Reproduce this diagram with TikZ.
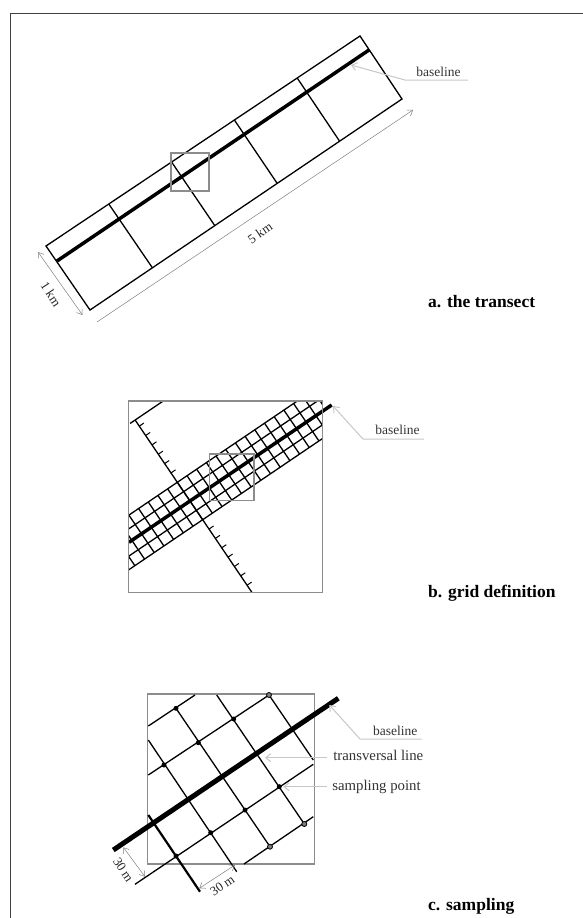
\documentclass[tikz,border=0pt]{standalone}
\usepackage{fontspec}
\setmainfont{Liberation Serif}
\usetikzlibrary{calc, positioning, arrows.meta}
\definecolor{framegray}{gray}{0.25}
\definecolor{boxgray}{gray}{0.55}
\definecolor{leadgray}{gray}{0.78}
\tikzset{
  mainline/.style={black, line width=1.3pt},
  baseline/.style={black, line width=3.5pt},
  graybox/.style={boxgray, line width=1.5pt},
  dimline/.style={gray, line width=0.5pt, {Straight Barb[length=5pt,width=7pt]}-{Straight Barb[length=5pt,width=7pt]}},
  leader/.style={leadgray, line width=1pt, -{Straight Barb[length=5pt,width=8pt]}},
  smalltext/.style={font=\fontsize{13.5}{15}\selectfont, inner sep=0pt, text=black!80},
  widetext/.style={font=\fontsize{14.8}{16}\selectfont, inner sep=0pt, text=black!80},
  dimtext/.style={font=\fontsize{13}{15}\selectfont, inner sep=0pt, text=black!85},
  paneltitle/.style={font=\fontsize{17.5}{19}\selectfont\bfseries, inner sep=0pt, anchor=base west},
  samplept/.style={circle, fill=black, inner sep=0pt, minimum size=5pt},
  openpt/.style={circle, draw=black, fill=gray, line width=0.8pt, inner sep=0pt, minimum size=5pt}
}
\begin{document}
\begin{tikzpicture}[x=1pt, y=-1pt]
  \useasboundingbox (0,0) rectangle (583,918);
  \draw[framegray, line width=0.8pt] (10,918) |- (583,13);

  % a. the transect
  \coordinate (atl) at (46,246);
  \coordinate (atr) at (360,36);
  \coordinate (abr) at (402,99);
  \coordinate (abl) at (90,310);
  \draw[mainline] (atl) -- (atr) -- (abr) -- (abl) -- cycle;
  \foreach \f in {0.2,0.4,0.6,0.8}
    \draw[mainline] ($(atl)!\f!(atr)$) -- ($(abl)!\f!(abr)$);
  \coordinate (abase1) at (57,261);
  \coordinate (abase2) at (369,50);
  \draw[baseline] (abase1) -- (abase2);
  \draw[graybox] (171,153) rectangle (209,191);
  \coordinate (akm1) at (38,252);
  \coordinate (akm2) at (82.5,315);
  \draw[dimline] (akm1) -- (akm2);
  \node[dimtext, rotate=-57] (aonekm) at (51,294) {1 km};
  \coordinate (akm3) at (97,322);
  \coordinate (akm4) at (413,110);
  \draw[gray, line width=0.5pt, -{Straight Barb[length=5pt,width=7pt]}] (akm3) -- (akm4);
  \node[dimtext, rotate=34] (afivekm) at (260,233) {5 km};
  \node[smalltext] (abasetext) at (438.5,72) {baseline};
  \coordinate (alead1) at (468,80);
  \coordinate (alead2) at (405,80);
  \coordinate (alead3) at (351,65);
  \draw[leader] (alead1) -- (alead2) -- (alead3);
  \node[paneltitle] (atitle) at (428,307) {a. the transect};

  % b. grid definition
  \begin{scope}
    \clip (128.3,401) rectangle (322.3,592.3);
    \begin{scope}[shift={(190,501)}, x={(0.828pt,0.561pt)}, y={(0.561pt,-0.828pt)}]
      \foreach \j in {-2,-1,1,2}
        \draw[mainline] (-100,\j*11.3) -- (190,\j*11.3);
      \foreach \k in {-12,...,16}
        \draw[mainline] (\k*11.7,-22.6) -- (\k*11.7,22.6);
      \draw[mainline] (0,-97.8) -- (0,115);
      \draw[mainline] (-6,-97.8) -- (45,-97.8);
      \foreach \t in {-8,...,-3,3,4,...,9}
        \draw[mainline, line width=1pt] (0,\t*11.3) -- (5.5,\t*11.3);
    \end{scope}
  \end{scope}
  \coordinate (bbase1) at (129,542.3);
  \coordinate (bbase2) at (331.7,405);
  \draw[baseline] (bbase1) -- (bbase2);
  \draw[graybox] (128.3,401) rectangle (322.3,592.3);
  \draw[graybox] (209.3,454) rectangle (254,500.3);
  \node[smalltext] (bbasetext) at (397.5,430) {baseline};
  \coordinate (blead1) at (424,439);
  \coordinate (blead2) at (363,439);
  \coordinate (blead3) at (333,406);
  \draw[leader] (blead1) -- (blead2) -- (blead3);
  \node[paneltitle] (btitle) at (428,597) {b. grid definition};

  % c. sampling
  \draw[graybox, line width=1.2pt] (147.3,694) rectangle (314.3,864);
  \coordinate (cl1a) at (148.3,726);
  \coordinate (cl1b) at (195,695);
  \coordinate (cl2a) at (148.3,775);
  \coordinate (cl2b) at (269,695);
  \coordinate (cl4a) at (135,884.3);
  \coordinate (cl4b) at (313.3,764.3);
  \coordinate (cl5a) at (244,864);
  \coordinate (cl5b) at (313.3,816.7);
  \draw[mainline] (cl1a) -- (cl1b);
  \draw[mainline] (cl2a) -- (cl2b);
  \draw[mainline] (cl4a) -- (cl4b);
  \draw[mainline] (cl5a) -- (cl5b);
  \coordinate (ct1a) at (148.3,815);
  \coordinate (ct1b) at (200,891.7);
  \coordinate (ct2a) at (148.3,740);
  \coordinate (ct2b) at (236.7,871.7);
  \coordinate (ct3a) at (176,708.3);
  \coordinate (ct3b) at (270,846.7);
  \coordinate (ct4a) at (216.7,695);
  \coordinate (ct4b) at (304.3,824);
  \coordinate (ct5a) at (269,695);
  \coordinate (ct5b) at (313.3,760);
  \draw[mainline, line width=2.2pt] (ct1a) -- (ct1b);
  \draw[mainline] (ct2a) -- (ct2b);
  \draw[mainline] (ct3a) -- (ct3b);
  \draw[mainline] (ct4a) -- (ct4b);
  \draw[mainline] (ct5a) -- (ct5b);
  \coordinate (cbase1) at (113.3,850);
  \coordinate (cbase2) at (338.3,698.3);
  \draw[baseline, line width=5pt] (cbase1) -- (cbase2);
  \foreach \p in {(176,708.3),(233.7,719),(198.3,742.7),(164,765),(279.3,786.7),(245,810),(210.7,832.7),(176,856)}
    \node[samplept] at \p {};
  \foreach \p in {(269,695),(304.3,824),(270,846.7)}
    \node[openpt] at \p {};
  \node[smalltext] (cbasetext) at (395.3,731) {baseline};
  \coordinate (clead1) at (421.7,739);
  \coordinate (clead2) at (360,739);
  \coordinate (clead3) at (329.3,705);
  \draw[leader] (clead1) -- (clead2) -- (clead3);
  \node[widetext] (ctranstext) at (378.3,755) {transversal line};
  \coordinate (clead4) at (327.3,757.7);
  \coordinate (clead5) at (265,757.7);
  \draw[leader] (clead4) -- (clead5);
  \node[widetext] (csamptext) at (376.5,786.7) {sampling point};
  \coordinate (clead6) at (326.7,786.7);
  \coordinate (clead7) at (283.3,786.7);
  \draw[leader] (clead6) -- (clead7);
  \coordinate (cdim1) at (123.3,847.3);
  \coordinate (cdim2) at (145,876.7);
  \draw[dimline] (cdim1) -- (cdim2);
  \node[dimtext, rotate=-57] (cthirtya) at (123.3,870) {30 m};
  \coordinate (cdim3) at (199.3,888.3);
  \coordinate (cdim4) at (235,865);
  \draw[dimline] (cdim3) -- (cdim4);
  \node[dimtext, rotate=34] (cthirtyb) at (222.3,885.7) {30 m};
  \node[paneltitle] (ctitle) at (428,910) {c. sampling};
\end{tikzpicture}
\end{document}
